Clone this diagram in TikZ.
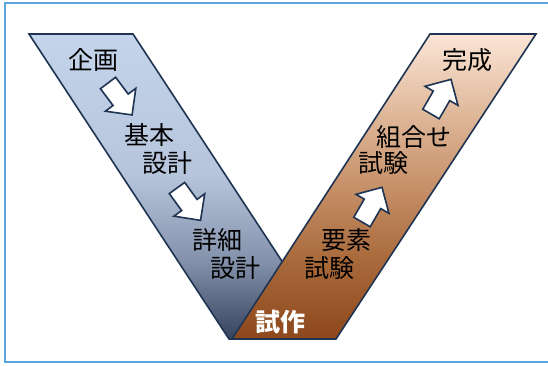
\documentclass[tikz,border=0pt]{standalone}
\usepackage{fontspec}
\newfontfamily\jpfont{Noto Sans CJK JP}
\usetikzlibrary{calc}
\definecolor{framec}{HTML}{5AA5DC}
\definecolor{edgec}{HTML}{1E3452}
\definecolor{bA}{HTML}{36435E}
\definecolor{bB}{HTML}{8592AC}
\definecolor{bC}{HTML}{B6C5DC}
\definecolor{bD}{HTML}{C4D4EB}
\definecolor{rA}{HTML}{8C471B}
\definecolor{rB}{HTML}{A96A3B}
\definecolor{rC}{HTML}{C69069}
\definecolor{rD}{HTML}{DFB89A}
\definecolor{rE}{HTML}{FBE5D6}
\pgfdeclareverticalshading{blueband}{100bp}{color(0bp)=(bA); color(25bp)=(bA); color(38bp)=(bB); color(52bp)=(bC); color(75bp)=(bD); color(100bp)=(bD)}
\pgfdeclareverticalshading{brownband}{100bp}{color(0bp)=(rA); color(25bp)=(rA); color(38bp)=(rB); color(50bp)=(rC); color(62bp)=(rD); color(75bp)=(rE); color(100bp)=(rE)}
\tikzset{
  band/.style={draw=edgec, line width=1.6pt, line join=miter},
  lbl/.style={font=\jpfont\fontsize{25}{28}\selectfont, text=black, inner sep=0pt},
  arrowbox/.style={draw=edgec, fill=white, line width=1.6pt, line join=miter},
}
\newcommand{\blockarrow}[3]{%
  \begin{scope}[shift={(#1)}, rotate=#2]
    \draw[arrowbox] (0,-9.5) -- (21,-9.5) -- (21,-19) -- (40,0) -- (21,19) -- (21,9.5) -- (0,9.5) -- cycle;
    \coordinate (#3) at (0,0);
  \end{scope}}
\begin{document}
\begin{tikzpicture}[x=1pt,y=-1pt]
  \useasboundingbox (0,0) rectangle (548,365);
  \clip (0,0) rectangle (548,365);
  \fill[white] (0,0) rectangle (548,365);
  \draw[framec, line width=1.2pt] (5,3) rectangle (560,362);
  % bands
  \shade[shading=blueband, band] (29,34) -- (133,34) -- (333,339) -- (229,339) -- cycle;
  \shade[shading=brownband, band] (430,34) -- (536,34) -- (336,339) -- (232,339) -- cycle;
  % arrows
  \blockarrow{108,83}{-53}{a1}
  \blockarrow{177,188}{-54}{a2}
  \blockarrow{362,222}{60}{a3}
  \blockarrow{431,114}{60}{a4}
  % labels
  \node[lbl] (kikaku) at (93.5,60) {企画};
  \node[lbl] (kihon) at (149,135) {基本};
  \node[lbl] (sekkei1) at (167,163) {設計};
  \node[lbl] (shosai) at (217.5,240) {詳細};
  \node[lbl] (sekkei2) at (235,268) {設計};
  \node[lbl, text=white, font=\jpfont\bfseries\fontsize{25}{28}\selectfont] (shisaku) at (280,322) {試作};
  \node[lbl] (yoso) at (346.5,240) {要素};
  \node[lbl] (shiken1) at (329,268) {試験};
  \node[lbl] (kumiawase) at (414,137) {組合せ};
  \node[lbl] (shiken2) at (383.6,163) {試験};
  \node[lbl] (kansei) at (467.5,60) {完成};
\end{tikzpicture}
\end{document}
